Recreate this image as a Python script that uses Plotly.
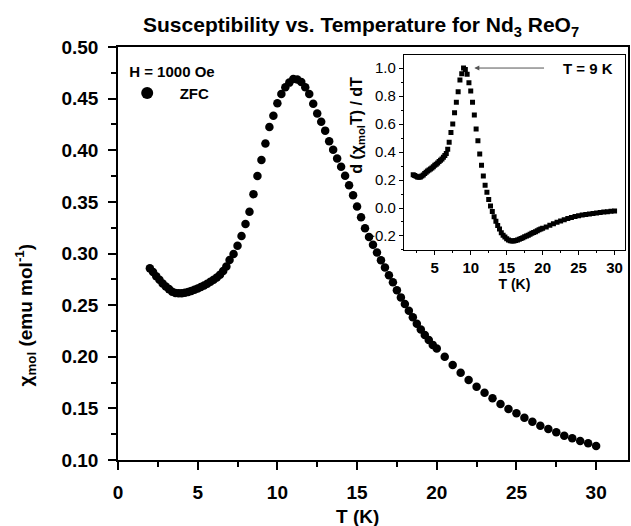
import plotly.graph_objects as go

# ---------------- data ----------------
T_main = [2.0, 2.2, 2.4, 2.6, 2.8, 3.0, 3.2, 3.4, 3.6, 3.8, 4.0, 4.2, 4.4, 4.6, 4.8,
          5.0, 5.2, 5.4, 5.6, 5.8, 6.0, 6.2, 6.4, 6.6, 6.8, 7.0,
          7.25, 7.5, 7.75, 8.0, 8.25, 8.5, 8.75, 9.0, 9.25, 9.5, 9.75, 10.0, 10.25, 10.5,
          10.75, 11.0, 11.25, 11.5, 11.75, 12.0, 12.25, 12.5, 12.75, 13.0, 13.25, 13.5,
          13.75, 14.0, 14.25, 14.5, 14.75, 15.0, 15.25, 15.5, 15.75, 16.0, 16.25, 16.5,
          16.75, 17.0, 17.25, 17.5, 17.75, 18.0, 18.25, 18.5, 18.75, 19.0, 19.25, 19.5,
          19.75, 20.0,
          20.5, 21.0, 21.5, 22.0, 22.5, 23.0, 23.5, 24.0, 24.5, 25.0, 25.5, 26.0, 26.5,
          27.0, 27.5, 28.0, 28.5, 29.0, 29.5, 30.0]

chi_zfc = [0.2856, 0.282, 0.278, 0.2745, 0.271, 0.268, 0.2655, 0.263, 0.2618, 0.2614,
           0.2615, 0.262, 0.2628, 0.2638, 0.265, 0.2662, 0.2676, 0.269, 0.2707, 0.2726,
           0.2746, 0.2768, 0.2795, 0.283, 0.2875, 0.2936,
           0.2995, 0.3075, 0.317, 0.3285, 0.3405, 0.3575, 0.375, 0.3905, 0.4065, 0.4225,
           0.4335, 0.4455, 0.4545, 0.461, 0.4655, 0.469, 0.4685, 0.466, 0.461, 0.4545,
           0.445, 0.4355, 0.4275, 0.419, 0.4088, 0.4005, 0.392, 0.384, 0.3752, 0.366,
           0.3565, 0.3455, 0.335, 0.3245, 0.316, 0.3085, 0.301, 0.2935, 0.2865, 0.279,
           0.2722, 0.2645, 0.2575, 0.251, 0.2445, 0.2383, 0.232, 0.2265, 0.221, 0.2163,
           0.2115, 0.208,
           0.2, 0.192, 0.1845, 0.1774, 0.171, 0.1652, 0.1597, 0.1542, 0.1494, 0.1452,
           0.141, 0.1371, 0.1332, 0.13, 0.1268, 0.1235, 0.121, 0.1184, 0.1162, 0.1136]

T_deriv = T_main
dchiT_dT = [0.238, 0.232, 0.226, 0.222, 0.22, 0.222, 0.228, 0.236, 0.246, 0.256,
            0.265, 0.272, 0.279, 0.285, 0.295, 0.305, 0.313, 0.322, 0.332, 0.342,
            0.35, 0.362, 0.375, 0.39, 0.42, 0.47,
            0.54, 0.6, 0.68, 0.755, 0.83, 0.915, 0.96, 1.0, 0.99, 0.955, 0.895, 0.835,
            0.755, 0.665, 0.565, 0.48, 0.385, 0.305, 0.228, 0.163, 0.112, 0.06, 0.015,
            -0.025, -0.063, -0.095, -0.125, -0.15, -0.176, -0.195, -0.208, -0.22, -0.229,
            -0.234, -0.236, -0.235, -0.232, -0.228, -0.223, -0.218, -0.212, -0.206, -0.2,
            -0.194, -0.188, -0.181, -0.175, -0.169, -0.162, -0.156, -0.15, -0.145,
            -0.135, -0.124, -0.113, -0.102, -0.093, -0.084, -0.075, -0.068, -0.061,
            -0.055, -0.05, -0.046, -0.042, -0.039, -0.036, -0.032, -0.029, -0.026,
            -0.023, -0.021]

main_yticks = [0.10, 0.15, 0.20, 0.25, 0.30, 0.35, 0.40, 0.45, 0.50]
main_xticks = [0, 5, 10, 15, 20, 25, 30]
inset_yticks = [-0.2, 0.0, 0.2, 0.4, 0.6, 0.8, 1.0]
inset_xticks = [5, 10, 15, 20, 25, 30]

# ---------------- figure ----------------
FONT = "Arial, Liberation Sans, sans-serif"

fig = go.Figure()

fig.add_trace(go.Scatter(
    x=T_main, y=chi_zfc, mode="markers", name="\u00a0\u00a0\u00a0ZFC",
    marker=dict(symbol="circle", size=8.5, color="black"),
    xaxis="x", yaxis="y", showlegend=True))

fig.add_trace(go.Scatter(
    x=T_deriv, y=dchiT_dT, mode="markers", name="deriv",
    marker=dict(symbol="square", size=5, color="black"),
    xaxis="x2", yaxis="y2", showlegend=False))

axis_common = dict(showline=True, linecolor="black", linewidth=1.5, mirror=True,
                   showgrid=False, zeroline=False, ticks="outside", tickcolor="black",
                   tickwidth=1.5)

fig.update_layout(
    width=631, height=526,
    margin=dict(l=118, r=1, t=47, b=66),
    paper_bgcolor="white", plot_bgcolor="white",
    font=dict(family=FONT, color="black"),
    title=dict(text="<b>Susceptibility vs. Temperature for Nd<sub>3</sub> ReO<sub>7</sub></b>",
               font=dict(size=21, family=FONT, color="black"),
               x=0.4766, xref="paper", xanchor="center",
               y=1 - 25 / 526, yref="container", yanchor="middle"),
    xaxis=dict(domain=[0, 1], range=[0, 32], tickvals=main_xticks, ticklen=8,
               tickfont=dict(size=19, weight="bold"), ticklabelstandoff=6,
               minor=dict(ticks="outside", dtick=2.5, tick0=0, ticklen=5,
                          tickcolor="black", tickwidth=1.5),
               **axis_common),
    yaxis=dict(domain=[0, 1], range=[0.1, 0.5], tickvals=main_yticks, tickformat=".2f",
               ticklen=8, tickfont=dict(size=19, weight="bold"), ticklabelstandoff=6,
               minor=dict(ticks="outside", dtick=0.025, tick0=0.1, ticklen=5,
                          tickcolor="black", tickwidth=1.5),
               **axis_common),
    xaxis2=dict(domain=[0.5605, 0.9941], anchor="y2", range=[0.7, 31.45],
                tickvals=inset_xticks, ticklen=4,
                tickfont=dict(size=15, weight="bold"),
                title=dict(text="<b>T (K)</b>", font=dict(size=14), standoff=2),
                minor=dict(ticks="outside", dtick=2.5, tick0=0, ticklen=2,
                           tickcolor="black", tickwidth=1),
                showline=True, linecolor="black", linewidth=1, mirror=True,
                showgrid=False, zeroline=False, ticks="outside", tickcolor="black",
                tickwidth=1),
    yaxis2=dict(domain=[0.5085, 0.9806], anchor="x2", range=[-0.3, 1.093],
                tickvals=inset_yticks, tickformat=".1f", ticklen=4,
                tickfont=dict(size=15),
                minor=dict(ticks="outside", dtick=0.1, tick0=0, ticklen=2,
                           tickcolor="black", tickwidth=1),
                showline=True, linecolor="black", linewidth=1, mirror=True,
                showgrid=False, zeroline=False, ticks="outside", tickcolor="black",
                tickwidth=1),
    legend=dict(x=0.018, y=0.975, xanchor="left", yanchor="top",
                bgcolor="rgba(0,0,0,0)", borderwidth=0,
                title=dict(text="<b>H = 1000 Oe</b>", font=dict(size=15)),
                font=dict(size=15, weight="bold"), itemsizing="constant",
                tracegroupgap=0),
    showlegend=True,
)

fig.add_annotation(text="<b>T (K)</b>", x=15, xref="x", y=-0.137, yref="paper",
                   showarrow=False, font=dict(size=19), xanchor="center", yanchor="middle")
fig.add_annotation(text="<b>χ<sub>mol</sub> (emu mol<sup>-1</sup>)</b>", x=-0.1816, xref="paper",
                   y=0.351, yref="paper", textangle=-90, showarrow=False,
                   font=dict(size=19), xanchor="center", yanchor="middle")
fig.add_annotation(text="<b>d (χ<sub>mol</sub>T) / dT</b>", x=0.468, xref="paper",
                   y=0.811, yref="paper", textangle=-90, showarrow=False,
                   font=dict(size=16), xanchor="center", yanchor="middle")
# arrow and label for T = 9 K
fig.add_annotation(text="", x=10.5, y=1.0, xref="x2", yref="y2",
                   ax=20.4, ay=1.0, axref="x2", ayref="y2",
                   showarrow=True, arrowhead=2, arrowsize=1, arrowwidth=1,
                   arrowcolor="#555555")
fig.add_annotation(text="<b>T = 9 K</b>", x=22.5, y=1.0, xref="x2", yref="y2",
                   showarrow=False, xanchor="left", yanchor="middle",
                   font=dict(size=15))

fig.write_html("out.html", config={"displayModeBar": False},
               post_script="document.body.style.margin='0px';")
